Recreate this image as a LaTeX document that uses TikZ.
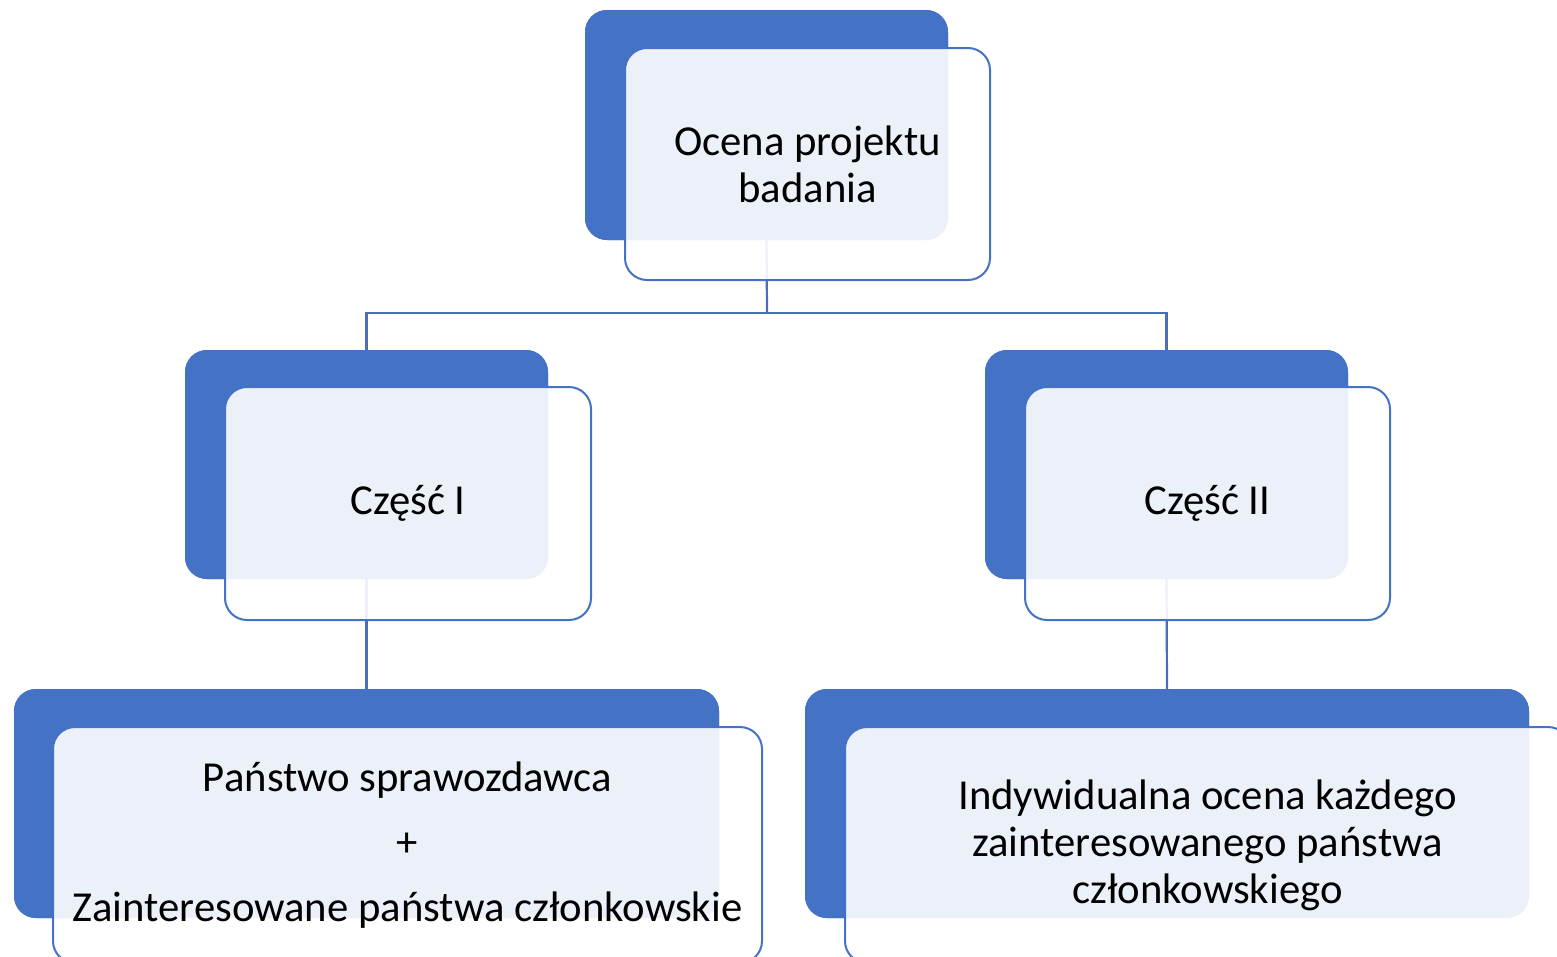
\documentclass[tikz,border=0pt]{standalone}
\usepackage{fontspec}
\setmainfont{Carlito}
\definecolor{acc}{HTML}{4472C4}
\definecolor{conncol}{HTML}{4A6FB8}
\tikzset{
  backbox/.style={anchor=north west, fill=acc, draw=none, rounded corners=22pt, inner sep=0pt, outer sep=0pt},
  frontbox/.style={anchor=north west, fill=white, fill opacity=0.9, draw=acc, line width=2pt, rounded corners=22pt, inner sep=0pt, outer sep=0pt},
  conn/.style={draw=conncol, line width=2.2pt},
  lbl/.style={align=center, font=\fontsize{42.7}{47}\selectfont, text=black, inner sep=0pt}
}
\begin{document}
\begin{tikzpicture}[x=1pt,y=-1pt]
\useasboundingbox (0,0) rectangle (1557,956);
% back boxes
\node[backbox, minimum width=363pt, minimum height=230pt] (tb) at (585,10) {};
\node[backbox, minimum width=363pt, minimum height=229pt] (lb) at (185,350) {};
\node[backbox, minimum width=363pt, minimum height=229pt] (rb) at (985,350) {};
\node[backbox, minimum width=705pt, minimum height=229pt] (llb) at (14,689) {};
\node[backbox, minimum width=724pt, minimum height=229pt] (rrb) at (805,689) {};
% connectors
\coordinate (j1) at (767,313);
\draw[conn] (tb.south) -- (j1);
\draw[conn] (lb.north) |- (j1) -| (rb.north);
\draw[conn] (lb.south) -- (llb.north);
\draw[conn] (rb.south) -- (rrb.north);
% redraw back boxes above connectors
\node[backbox, minimum width=363pt, minimum height=230pt] at (585,10) {};
\node[backbox, minimum width=363pt, minimum height=229pt] at (185,350) {};
\node[backbox, minimum width=363pt, minimum height=229pt] at (985,350) {};
\node[backbox, minimum width=705pt, minimum height=229pt] at (14,689) {};
\node[backbox, minimum width=724pt, minimum height=229pt] at (805,689) {};
% front boxes
\node[frontbox, minimum width=365pt, minimum height=232pt] (tf) at (625,48) {};
\node[frontbox, minimum width=366pt, minimum height=233pt] (lf) at (225,387) {};
\node[frontbox, minimum width=365pt, minimum height=233pt] (rf) at (1025,387) {};
\node[frontbox, minimum width=709pt, minimum height=236pt] (llf) at (53,727) {};
\node[frontbox, minimum width=725pt, minimum height=236pt] (rrf) at (845,727) {};
% labels
\node[lbl] (tt) at (tf.center) {Ocena projektu\\badania};
\node[lbl] (lt) at (lf.center) {Część I};
\node[lbl] (rt) at (rf.center) {Część II};
\node[lbl, font=\fontsize{42.7}{65}\selectfont] (llt) at (llf.center) {Państwo sprawozdawca\\+\\Zainteresowane państwa członkowskie};
\node[lbl] (rrt) at (rrf.center) {Indywidualna ocena każdego\\zainteresowanego państwa\\członkowskiego};
\end{tikzpicture}
\end{document}
